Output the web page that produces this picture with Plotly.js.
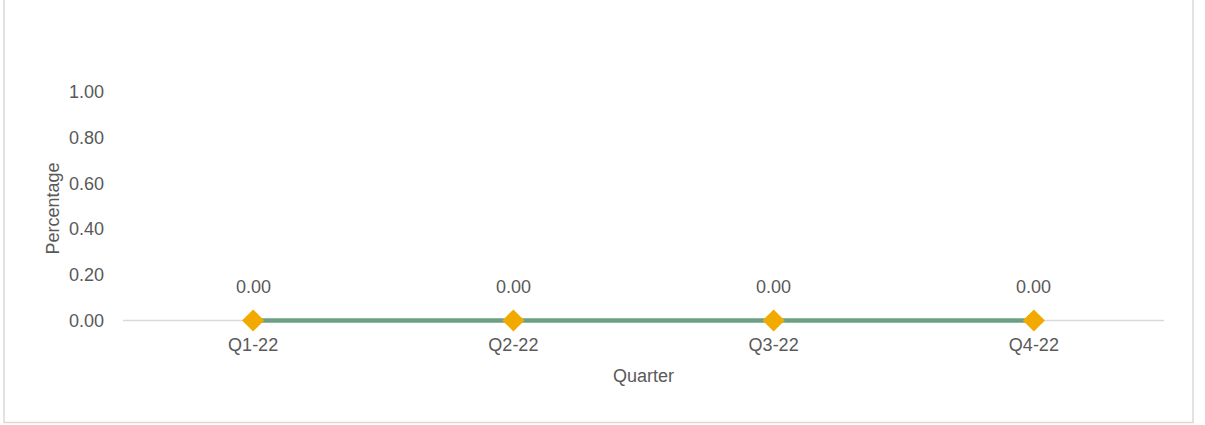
<!DOCTYPE html>
<html>
<head>
<meta charset="utf-8">
<script src="https://cdn.plot.ly/plotly-3.0.1.min.js"></script>
<style>
html,body{margin:0;padding:0;background:#fff;}
#chart{width:1205px;height:425px;}
</style>
</head>
<body>
<div id="chart"></div>
<script>
const quarters = ["Q1-22", "Q2-22", "Q3-22", "Q4-22"];
const percentages = [0, 0, 0, 0];
const yTicks = [0, 0.2, 0.4, 0.6, 0.8, 1.0];
const yTickLabels = ["0.00", "0.20", "0.40", "0.60", "0.80", "1.00"];

const FONT = '"Liberation Sans", Arial, sans-serif';
const TXT = '#595959';
const FS = 18;

// plot geometry: value 0 at pixel 320, value 1 at pixel 92
const Y_MIN = -0.02, Y_MAX = 1.0;
const PX_PER_UNIT = 228;
const TOP = 92;
const plotH = (Y_MAX - Y_MIN) * PX_PER_UNIT;
const BOTTOM = 425 - TOP - plotH;
const plotBottomPx = TOP + plotH;
const LEFT = 123, RIGHT = 41, plotW = 1205 - LEFT - RIGHT;

const trace = {
  x: quarters,
  y: percentages,
  type: 'scatter',
  mode: 'lines+markers',
  line: {color: '#6CA085', width: 4.5},
  marker: {symbol: 'diamond', size: 17, color: '#F2A900', line: {width: 0}},
  cliponaxis: false,
  hoverinfo: 'skip'
};

const labelAnnotations = quarters.map((q, i) => ({
  x: q, y: percentages[i], xref: 'x', yref: 'y',
  text: percentages[i].toFixed(2),
  showarrow: false, yshift: 33, yanchor: 'middle', xanchor: 'center',
  font: {family: FONT, size: FS, color: TXT}
}));

const layout = {
  width: 1205,
  height: 425,
  margin: {l: LEFT, r: RIGHT, t: TOP, b: BOTTOM},
  paper_bgcolor: '#ffffff',
  plot_bgcolor: '#ffffff',
  showlegend: false,
  font: {family: FONT, size: FS, color: TXT},
  xaxis: {
    type: 'category',
    range: [-0.5, 3.5],
    showgrid: false,
    zeroline: false,
    showline: false,
    ticks: '',
    tickfont: {family: FONT, size: FS, color: TXT},
    ticklabelstandoff: 7,
    title: {text: 'Quarter', font: {family: FONT, size: FS, color: TXT}, standoff: 15}
  },
  yaxis: {
    range: [Y_MIN, Y_MAX],
    tickvals: yTicks,
    ticktext: yTickLabels,
    showgrid: false,
    zeroline: false,
    showline: false,
    ticks: '',
    ticklabelstandoff: 18,
    tickfont: {family: FONT, size: FS, color: TXT},
    title: {text: 'Percentage', font: {family: FONT, size: FS, color: TXT}, standoff: 4}
  },
  annotations: labelAnnotations,
  shapes: [
    {type: 'line', xref: 'paper', yref: 'y', x0: 0, x1: 1, y0: 0, y1: 0,
     line: {color: '#D9D9D9', width: 1.5}, layer: 'below'},
    {type: 'rect', xref: 'paper', yref: 'paper',
     x0: (4 - LEFT) / plotW, x1: (1193 - LEFT) / plotW,
     y0: (plotBottomPx - 422) / plotH, y1: (plotBottomPx + 10) / plotH,
     line: {color: '#D9D9D9', width: 1.5}, layer: 'below'}
  ]
};

Plotly.newPlot('chart', [trace], layout, {displayModeBar: false, staticPlot: true});
</script>
</body>
</html>
